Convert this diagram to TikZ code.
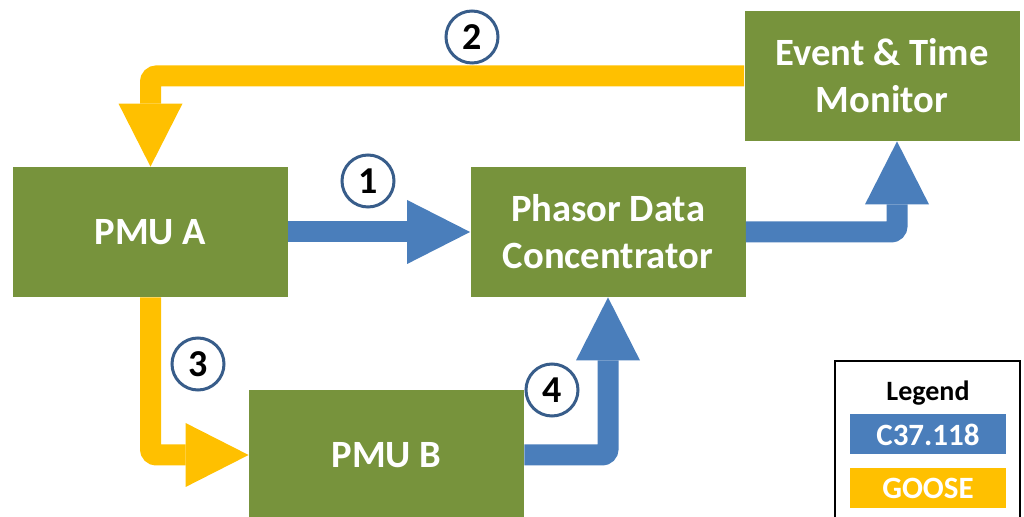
\documentclass[tikz,border=0pt]{standalone}
\usepackage{fontspec}
\setmainfont{Carlito}
\usetikzlibrary{arrows.meta,positioning}
\definecolor{boxgreen}{HTML}{77933C}
\definecolor{cblue}{HTML}{4A7EBB}
\definecolor{gyellow}{HTML}{FFC000}
\definecolor{ringblue}{HTML}{385D8A}
\tikzstyle{block} = [rectangle, fill=boxgreen, text=white, align=center,
    font=\bfseries\fontsize{19.3}{23.5}\selectfont,
    minimum width=137.5pt, minimum height=65pt, inner sep=0pt]
\tikzstyle{c37} = [draw=cblue, line width=10.5pt, rounded corners=3pt,
    -{Triangle[length=31.5pt, width=32pt, line width=0pt]}]
\tikzstyle{goose} = [c37, draw=gyellow]
\tikzstyle{num} = [circle, draw=ringblue, line width=1.5pt, fill=white,
    minimum size=26pt, inner sep=0pt, font=\bfseries\fontsize{19}{19}\selectfont]
\tikzstyle{keybox} = [rectangle, text=white, minimum width=78pt, minimum height=20pt,
    inner sep=0pt, font=\bfseries\fontsize{15.5}{15.5}\selectfont]

\begin{document}
\begin{tikzpicture}[x=0.5pt, y=-0.5pt]
        \useasboundingbox (0,0) rectangle (1024,517);
        \clip (0,0) rectangle (1024,517);

        % Place nodes
        \node [block] (pmua) at (150.5,232) {PMU A};
        \node [block] (pdc) at (608,232) {Phasor Data\\Concentrator};
        \node [block] (etm) at (882,76) {Event \& Time\\Monitor};
        \node [block] (pmub) at (386.5,455) {PMU B};

        % Legend
        \node [draw, line width=1pt, minimum width=92.5pt, minimum height=90pt] (legend) at (927.5,451) {};
        \node [font=\bfseries\fontsize{14}{14}\selectfont] (title) at (928,393) {Legend};
        \node [keybox, fill=cblue] (c37key) at (928,434.5) {C37.118};
        \node [keybox, fill=gyellow, below=6.5pt of c37key] (goosekey) {GOOSE};

        % Draw edges
        \path [c37] (pmua) -- (pdc);
        \path [goose] (etm.west) -| (pmua.north);
        \path [goose] (pmua.south) |- (pmub.west);
        \path [c37] (pmub.east) -| (pdc.south);
        \path [c37] (pdc.east) -| ([xshift=7.5pt]etm.south);

        % Step numbers
        \node [num] (n1) at (368,181) {1};
        \node [num] (n2) at (472,37) {2};
        \node [num] (n3) at (198,364) {3};
        \node [num] (n4) at (552,390) {4};

      \end{tikzpicture}
\end{document}
